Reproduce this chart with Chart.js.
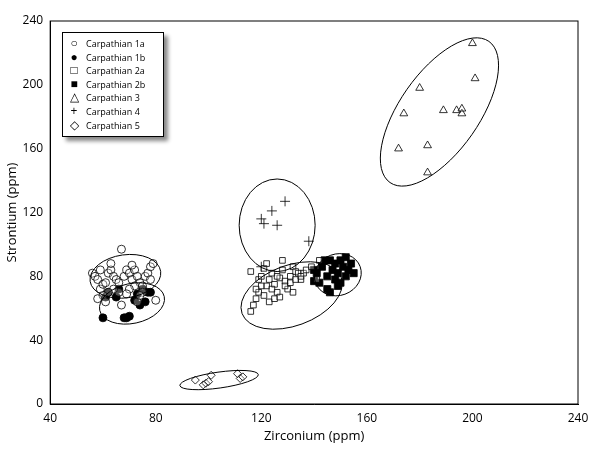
<!DOCTYPE html><html><head><script src="https://cdn.jsdelivr.net/npm/chart.js@4"></script>
<style>body{margin:0;background:#fff}#w{position:relative;width:600px;height:450px}
#lg{position:absolute;left:62px;top:32px;width:100px;padding:4px 0 4px 0;border:1px solid #000;background:#fff;box-shadow:4px 4px 4px #888;font:9px "Open Sans",sans-serif;line-height:13.6px}
#lg span{display:inline-block;width:16px;text-align:center;margin-left:3px;margin-right:4px;font-size:12px;line-height:10px}</style></head><body>
<div id="w"><canvas id="c" width="600" height="450"></canvas>
<div id="lg"></div></div>
<script>
const names=["Carpathian 1a","Carpathian 1b","Carpathian 2a","Carpathian 2b","Carpathian 3","Carpathian 4","Carpathian 5"];
const xTicks=[40,80,120,160,200,240];
const yTicks=[0,40,80,120,160,200,240];
const c1a=[[56,82],[57,80],[58,78],[59,72],[60,75],[61,76],[62,82],[63,84],[64,80],[65,78],[66,76],[67,97],[68,80],[69,84],[70,82],[71,78],[72,84],[73,80],[74,76],[75,74],[76,80],[77,82],[78,86],[79,88],[72,74],[70,72],[66,70],[64,72],[62,70],[60,68],[58,66],[61,64],[67,62],[73,64],[69,69],[75,70],[78,78],[80,65],[74,68],[59,84],[63,88],[71,87]];
const c1b=[[60,54],[61,67],[62,70],[66,72],[68,54],[69,54],[70,55],[72,65],[73,69],[74,62],[75,72],[77,70],[76,64],[78,70],[65,67]];
const c2a=[[116,83],[117,62],[116,58],[118,66],[119,78],[120,80],[121,85],[122,74],[123,78],[124,82],[125,75],[126,70],[127,79],[128,84],[129,77],[130,72],[131,80],[132,86],[133,83],[134,82],[135,78],[136,82],[137,84],[139,86],[141,78],[142,90],[119,70],[121,68],[123,64],[125,66],[127,67],[129,74],[131,76],[133,78],[135,80],[122,88],[128,90],[132,70],[124,72],[126,80],[120,74],[118,72]];
const c2b=[[140,84],[140,77],[141,82],[142,76],[143,86],[144,90],[145,80],[145,72],[146,70],[147,84],[148,88],[148,78],[149,82],[150,90],[150,76],[151,86],[152,80],[152,92],[153,84],[154,88],[155,82],[146,90],[149,74]];
const c3=[[172,160],[174,182],[180,198],[183,162],[183,145],[189,184],[194,184],[196,182],[196,185],[200,226],[201,204]];
const c4=[[120,116],[121,113],[124,121],[126,112],[129,127],[138,102],[120,86]];
const c5=[[95,15],[98,12],[99,13],[100,14],[101,18],[111,19],[112,16],[113,17]];
// ellipses: centerX, centerY, semi-axis a (x-units), semi-axis b (y-units), rotation deg
const ellipses=[[68.5,80,13.5,13.5,-8],[71,63,12.5,12.5,-12],[131.5,68,20,19,-20],[149,81,9,13,-20],[126,112,14.4,29,0],[187.5,183,15,54,35],[104,15,15,5,-8]];
const sets=[c1a,c1b,c2a,c2b,c3,c4,c5];
const styles=[['circle',false,4],['circle',true,4],['rect',false,4],['rect',true,5],['triangle',false,4.5],['cross',false,5],['rectRot',false,4]];
const leg=['○','●','□','■','△','+','◇'];
document.getElementById('lg').innerHTML=names.map((n,i)=>'<div><span>'+leg[i]+'</span>'+n+'</div>').join('');
const ellPlugin={id:'ell',afterDatasetsDraw(ch){const x=ch.scales.x,y=ch.scales.y,g=ch.ctx;g.save();g.strokeStyle='#000';g.lineWidth=1;
ellipses.forEach(e=>{const cx=x.getPixelForValue(e[0]),cy=y.getPixelForValue(e[1]);const rx=Math.abs(x.getPixelForValue(e[0]+e[2])-cx),ry=Math.abs(y.getPixelForValue(e[1]+e[3])-cy);g.beginPath();g.ellipse(cx,cy,rx,ry,e[4]*Math.PI/180,0,2*Math.PI);g.stroke();});
g.strokeRect(ch.chartArea.left,ch.chartArea.top,ch.chartArea.width,ch.chartArea.height);g.restore();}};
new Chart(document.getElementById('c'),{type:'scatter',
data:{datasets:sets.map((s,i)=>({label:names[i],data:s.map(p=>({x:p[0],y:p[1]})),pointStyle:styles[i][0],pointRadius:styles[i][2],borderColor:'#000',borderWidth:0.8,backgroundColor:styles[i][1]?'#000':'rgba(255,255,255,0.3)'}))},
plugins:[ellPlugin],
options:{responsive:false,animation:false,layout:{padding:{top:21,right:22,left:4,bottom:6}},
plugins:{legend:{display:false},tooltip:{enabled:false}},
scales:{x:{type:'linear',min:40,max:240,afterBuildTicks:a=>{a.ticks=xTicks.map(v=>({value:v}))},grid:{display:false,drawTicks:true,tickLength:4,tickColor:'#000'},border:{color:'#000'},ticks:{color:'#000',font:{family:'Open Sans',size:12}},title:{display:true,text:'Zirconium (ppm)',color:'#000',font:{family:'Open Sans',size:13},padding:0}},
y:{type:'linear',min:0,max:240,afterBuildTicks:a=>{a.ticks=yTicks.map(v=>({value:v}))},grid:{display:false,drawTicks:true,tickLength:4,tickColor:'#000'},border:{color:'#000'},ticks:{color:'#000',font:{family:'Open Sans',size:12}},title:{display:true,text:'Strontium (ppm)',color:'#000',font:{family:'Open Sans',size:13},padding:0}}}}});
</script></body></html>
